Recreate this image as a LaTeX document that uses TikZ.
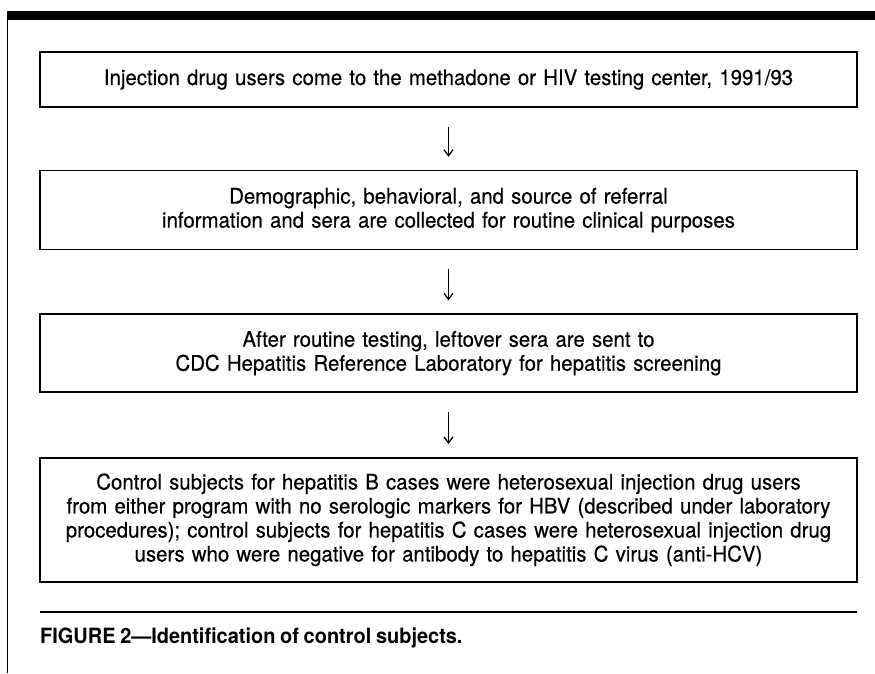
\documentclass[tikz,border=0pt]{standalone}
\usepackage{fontspec}
\setmainfont{TeX Gyre Heros}[FakeStretch=0.95, WordSpace=0.85]
\newfontfamily\boxfont{TeX Gyre Heros}[FakeStretch=0.95, WordSpace=0.85, FakeBold=0.3]
\usetikzlibrary{positioning, arrows.meta}

\begin{document}
\begin{tikzpicture}[
    x=1pt, y=-1pt,
    >={Straight Barb[length=6pt, width=9pt]},
    stepbox/.style={
        draw,
        line width=1.6pt,
        minimum width=817pt,
        text width=805pt,
        align=center,
        inner sep=0pt,
        font=\boxfont\fontsize{21.5}{24}\selectfont,
    },
    flow/.style={
        ->,
        line width=1.3pt,
        shorten <=19pt,
        shorten >=13pt,
    },
    caption/.style={
        font=\fontsize{21}{24}\selectfont\bfseries,
        anchor=base west,
        inner sep=0pt,
    },
]
\useasboundingbox (0,0) rectangle (875,673);

% --- Page frame: heavy top bar and left margin line ---
\fill (7,11) rectangle (875,20);
\draw[line width=1pt] (7,11) -- (7,673);

% --- Stage 1: arrival ---
\node[stepbox, minimum height=55pt] (arrive) at (448.5,79.5) {%
    Injection drug users come to the methadone or HIV testing center, 1991/93%
};

% --- Stage 2: data collection ---
\node[stepbox, minimum height=79pt, below=62pt of arrive] (collect) {%
    Demographic, behavioral, and source of referral\\
    information and sera are collected for routine clinical purposes%
};

% --- Stage 3: screening ---
\node[stepbox, minimum height=78pt, below=63pt of collect] (screen) {%
    After routine testing, leftover sera are sent to\\
    CDC Hepatitis Reference Laboratory for hepatitis screening%
};

% --- Stage 4: control subjects ---
\node[stepbox, minimum height=124pt, below=64pt of screen] (controls) {%
    Control subjects for hepatitis B cases were heterosexual injection drug users\\
    from either program with no serologic markers for HBV (described under laboratory\\
    procedures); control subjects for hepatitis C cases were heterosexual injection drug\\
    users who were negative for antibody to hepatitis C virus (anti-HCV)%
};

% --- Transition arrows ---
\draw[flow] (arrive) -- (collect);
\draw[flow] (collect) -- (screen);
\draw[flow] (screen) -- (controls);

% --- Caption ---
\draw[line width=1.4pt] (40,612) -- (857,612);
\node[caption] (cap) at (40,643) {FIGURE 2—Identification of control subjects.};

\end{tikzpicture}
\end{document}
